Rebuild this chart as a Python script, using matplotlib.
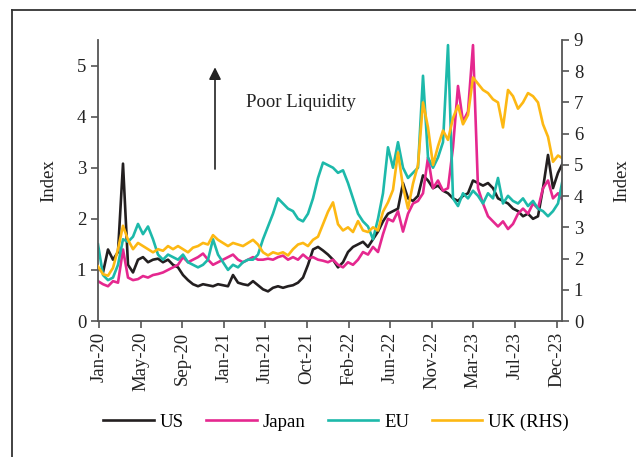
import numpy as np
import matplotlib
matplotlib.use("Agg")
import matplotlib.pyplot as plt
from matplotlib.lines import Line2D

plt.rcParams['font.family'] = ['Liberation Serif', 'DejaVu Serif']

tick_labels = ["Jan-20", "May-20", "Sep-20", "Jan-21", "Jun-21", "Oct-21",
               "Feb-22", "Jun-22", "Nov-22", "Mar-23", "Jul-23", "Dec-23"]

us = [1.04, 0.95, 1.4, 1.2, 1.35, 3.08, 1.1, 0.95, 1.2, 1.25,
      1.15, 1.2, 1.22, 1.15, 1.2, 1.1, 1.05, 0.9, 0.8, 0.72,
      0.68, 0.72, 0.7, 0.68, 0.72, 0.7, 0.68, 0.9, 0.75, 0.72,
      0.7, 0.78, 0.7, 0.62, 0.58, 0.65, 0.68, 0.65, 0.68, 0.7,
      0.75, 0.85, 1.1, 1.4, 1.45, 1.38, 1.3, 1.2, 1.05, 1.15,
      1.35, 1.45, 1.5, 1.55, 1.45, 1.6, 1.75, 1.95, 2.1, 2.15,
      2.2, 2.7, 2.4, 2.35, 2.45, 2.85, 2.75, 2.6, 2.65, 2.55,
      2.5, 2.4, 2.35, 2.45, 2.5, 2.75, 2.7, 2.65, 2.7, 2.6,
      2.4, 2.35, 2.3, 2.2, 2.15, 2.05, 2.1, 2.0, 2.05, 2.6,
      3.25, 2.6, 2.9, 3.1]

japan = [0.78, 0.72, 0.68, 0.78, 0.75, 1.4, 0.85, 0.8, 0.82, 0.88,
         0.85, 0.9, 0.92, 0.95, 1.0, 1.05, 1.1, 1.25, 1.15, 1.2,
         1.25, 1.32, 1.2, 1.1, 1.15, 1.2, 1.25, 1.3, 1.2, 1.15,
         1.2, 1.25, 1.2, 1.2, 1.22, 1.2, 1.25, 1.28, 1.2, 1.25,
         1.2, 1.3, 1.22, 1.25, 1.2, 1.18, 1.15, 1.2, 1.1, 1.05,
         1.15, 1.1, 1.2, 1.35, 1.3, 1.45, 1.35, 1.7, 2.0, 1.95,
         2.15, 1.75, 2.1, 2.3, 2.35, 2.5, 3.2, 2.6, 2.75, 2.55,
         2.6, 3.4, 4.6, 3.9, 4.1, 5.4, 2.6, 2.3, 2.05, 1.95,
         1.85, 1.95, 1.8, 1.9, 2.1, 2.2, 2.1, 2.3, 2.2, 2.6,
         2.75, 2.4, 2.5, 2.35]

eu = [1.5, 0.9, 0.8, 0.85, 1.1, 1.6, 1.55, 1.65, 1.9, 1.7,
      1.85, 1.6, 1.3, 1.2, 1.3, 1.25, 1.2, 1.3, 1.15, 1.1,
      1.05, 1.1, 1.2, 1.6, 1.3, 1.15, 1.0, 1.1, 1.05, 1.15,
      1.2, 1.2, 1.3, 1.6, 1.85, 2.1, 2.4, 2.3, 2.2, 2.15,
      2.0, 1.95, 2.1, 2.4, 2.8, 3.1, 3.05, 3.0, 2.9, 2.95,
      2.7, 2.4, 2.1, 1.95, 1.85, 1.6, 2.0, 2.5, 3.4, 3.0,
      3.5, 3.0, 2.8, 2.9, 3.0, 4.8, 3.2, 3.0, 3.2, 3.5,
      5.4, 2.4, 2.25, 2.5, 2.4, 2.55, 2.45, 2.3, 2.5, 2.4,
      2.8, 2.3, 2.45, 2.35, 2.3, 2.4, 2.25, 2.35, 2.2, 2.15,
      2.05, 2.15, 2.3, 2.8]

uk = [1.75, 1.5, 1.45, 1.7, 2.3, 3.05, 2.6, 2.3, 2.5, 2.4,
      2.3, 2.2, 2.3, 2.25, 2.4, 2.3, 2.4, 2.3, 2.2, 2.35,
      2.4, 2.5, 2.45, 2.75, 2.6, 2.5, 2.4, 2.5, 2.45, 2.4,
      2.5, 2.6, 2.45, 2.2, 2.1, 2.2, 2.15, 2.2, 2.1, 2.3,
      2.45, 2.5, 2.4, 2.6, 2.7, 3.1, 3.5, 3.8, 3.1, 2.9,
      3.0, 2.85, 3.2, 2.9, 2.85, 3.0, 2.9, 3.5, 3.8, 4.2,
      5.4, 4.3, 3.6, 4.4, 5.0, 7.0, 6.2, 5.0, 5.6, 6.1,
      5.8, 6.5, 6.9, 6.3, 6.6, 7.8, 7.6, 7.4, 7.3, 7.1,
      7.0, 6.2, 7.4, 7.2, 6.8, 7.0, 7.3, 7.2, 7.0, 6.3,
      5.9, 5.1, 5.3, 5.2]

c_us, c_jp, c_eu, c_uk = '#231F20', '#E5288F', '#1DB9AA', '#FDB813'
spine_c = '#555555'
fs = 13.5

fig = plt.figure(figsize=(6.36, 4.57), dpi=100)
ax = fig.add_axes([98/636, 1-321/457, (562-98)/636, (321-40)/457])
ax2 = ax.twinx()

x = np.arange(len(us))
lw = 1.9
l1, = ax.plot(x, us, color=c_us, lw=lw, label='US')
l2, = ax.plot(x, japan, color=c_jp, lw=lw, label='Japan')
l3, = ax.plot(x, eu, color=c_eu, lw=lw, label='EU')
l4, = ax2.plot(x, uk, color=c_uk, lw=lw, label='UK (RHS)')

ax.set_xlim(0, len(us) - 1.2)
ax.set_ylim(0, 5.5)
ax2.set_ylim(0, 9)
ax.set_yticks(range(0, 6))
ax2.set_yticks(range(0, 10))
ax.set_xticks(np.linspace(0.2, len(us) - 2.3, len(tick_labels)))
ax.set_xticklabels(tick_labels, rotation=90)

for a in (ax, ax2):
    a.spines['top'].set_visible(False)
    for s in a.spines.values():
        s.set_color(spine_c)
        s.set_linewidth(1.3)
    a.tick_params(colors=spine_c, labelcolor='#222222', labelsize=fs,
                  length=5, width=1.2, direction='out')
ax.spines['right'].set_visible(False)
ax2.spines['left'].set_visible(False)
ax2.spines['bottom'].set_visible(False)
ax.tick_params(axis='x', pad=3)

ax.set_ylabel('Index', fontsize=fs, color='#222222', labelpad=14)
ax2.set_ylabel('Index', fontsize=fs, color='#222222', labelpad=22, rotation=90)

ax.annotate('', xy=(23.4, 5.02), xytext=(23.4, 2.92),
            arrowprops=dict(arrowstyle='-|>', color='#222222', lw=1.2,
                            mutation_scale=18))
ax.text(29.6, 4.27, 'Poor Liquidity', fontsize=fs, color='#222222',
        va='center', ha='left')

fig.legend(handles=[l1, l2, l3, l4], loc='center',
           bbox_to_anchor=(336/636, 1-422/457), ncol=4, frameon=False,
           fontsize=fs, handlelength=2.7, handletextpad=0.3,
           columnspacing=1.2)

fig.add_artist(Line2D([12/636, 12/636], [0, 1-10/457], transform=fig.transFigure,
                      color='#333333', lw=1.3))
fig.add_artist(Line2D([12/636, 1], [1-10/457, 1-10/457], transform=fig.transFigure,
                      color='#333333', lw=1.3))

fig.savefig('out.png', dpi=100)
